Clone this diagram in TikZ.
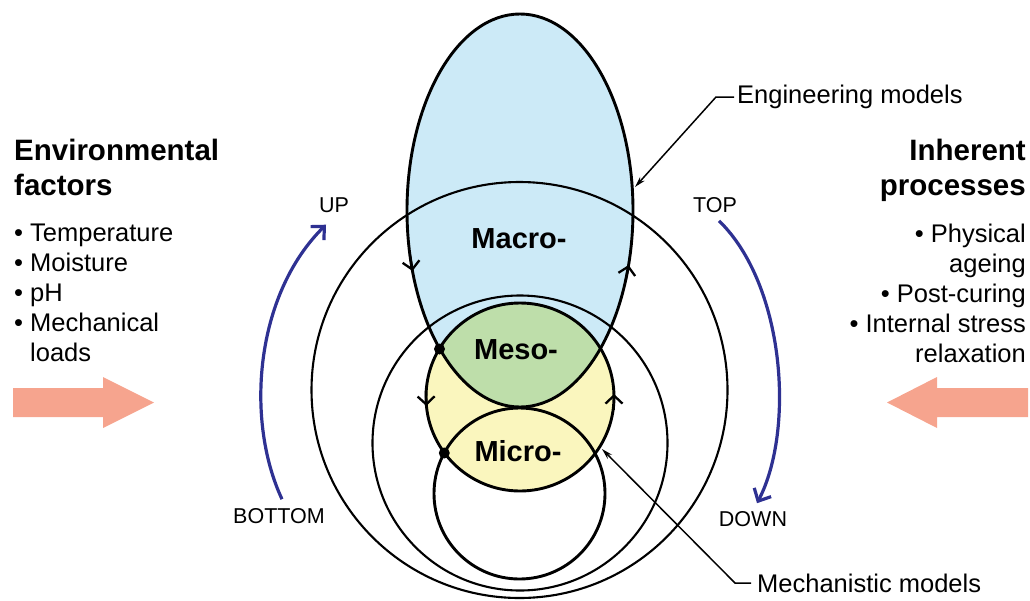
\documentclass[tikz,border=0pt]{standalone}
\usepackage{fontspec}
\setmainfont{Liberation Sans}
\usetikzlibrary{arrows.meta}

\definecolor{macroblue}{RGB}{204,234,247}
\definecolor{mesogreen}{RGB}{190,222,170}
\definecolor{microyellow}{RGB}{250,246,190}
\definecolor{turnblue}{RGB}{46,49,146}
\definecolor{loadsalmon}{RGB}{246,164,142}

\newcommand{\headfont}{\fontsize{29.5}{35}\selectfont\bfseries}
\newcommand{\listfont}{\fontsize{25.5}{30}\selectfont}
\newcommand{\levelfont}{\fontsize{29}{34}\selectfont\bfseries}
\newcommand{\dirfont}{\fontsize{21.5}{26}\selectfont}
\newcommand{\notefont}{\fontsize{25.5}{30}\selectfont}

\begin{document}
\begin{tikzpicture}[x=1pt,y=-1pt]
    \tikzstyle{every node}=[inner sep=0pt]
    \tikzstyle{levelline}=[line width=2.9pt]
    \tikzstyle{ringline}=[line width=2.1pt]
    \tikzstyle{chev}=[line width=2.3pt,-{Straight Barb[length=8pt,width=17pt]}]
    \tikzstyle{turnarc}=[turnblue,line width=3.2pt,-{Straight Barb[length=10pt,width=19pt]}]
    \tikzstyle{leaderline}=[line width=1.5pt,-{Stealth[length=11pt,width=6pt]}]
    \useasboundingbox (0,0) rectangle (1030,600);

    \fill[macroblue] (520,210.5) ellipse (113 and 196.5);
    \fill[microyellow] (520,397) circle (94);
    \begin{scope}
        \clip (520,210.5) ellipse (113 and 196.5);
        \fill[mesogreen] (520,397) circle (94);
    \end{scope}

    \draw[ringline] (519.5,390) circle (208);
    \draw[ringline] (520,443) circle (147.5);

    \draw[levelline] (520,210.5) ellipse (113 and 196.5);
    \draw[levelline] (520,397) circle (94);
    \draw[levelline] (519.5,493.5) circle (85.5);

    \draw[chev] (410,255) -- (412.5,271);
    \draw[chev] (625.5,281) -- (628.6,265);
    \draw[chev] (426,390) -- (426.3,406);
    \draw[chev] (614,410) -- (614,394);

    \fill (439.5,349) circle (5.5);
    \fill (444.3,453) circle (5.5);

    \node[font=\levelfont] (macro) at (519,239) {Macro-};
    \node[font=\levelfont] (meso) at (516,350) {Meso-};
    \node[font=\levelfont] (micro) at (518,451) {Micro-};

    \node[font=\dirfont] (up) at (334,205) {UP};
    \node[font=\dirfont] (top) at (715,205) {TOP};
    \node[font=\dirfont] (bottom) at (279,516) {BOTTOM};
    \node[font=\dirfont] (down) at (753,519) {DOWN};

    \draw[turnarc] ([xshift=3pt,yshift=9pt]bottom.north) .. controls (245,420) and (255,295) .. ([xshift=-8pt,yshift=-12pt]up.south);
    \draw[turnarc] ([xshift=4pt,yshift=-8pt]top.south) .. controls (785,285) and (795,430) .. ([xshift=4pt,yshift=8pt]down.north);

    \node[font=\notefont,anchor=west] (engmodels) at (737,97) {Engineering models};
    \coordinate (engtip) at (635,187);
    \draw[leaderline] ([xshift=-3pt]engmodels.west) -- ++(-18,0) -- (engtip);

    \node[font=\notefont,anchor=west] (mechmodels) at (757,583) {Mechanistic models};
    \coordinate (mechtip) at (602,449);
    \draw[leaderline] ([xshift=-6pt]mechmodels.west) -- ++(-16,0) -- (mechtip);

    \node[font=\headfont,anchor=north west,align=left] (envhead) at (14,139) {Environmental\\factors};
    \node[font=\listfont,anchor=north west,align=left] (envlist) at (14,224)
    {• Temperature\\• Moisture\\• pH\\• Mechanical\\\hphantom{• }loads};

    \node[font=\headfont,anchor=north east,align=right] (inhhead) at (1026,139) {Inherent\\processes};
    \node[font=\listfont,anchor=north east,align=right] (inhlist) at (1026,224)
    {• Physical\\ageing\\• Post-curing\\• Internal stress\\relaxation};

    \fill[loadsalmon] (13,388) -- (103,388) -- (103,377) -- (154,402.5) -- (103,428) -- (103,417) -- (13,417) -- cycle;
    \fill[loadsalmon] (1028,388) -- (937,388) -- (937,377) -- (887,402.5) -- (937,428) -- (937,417) -- (1028,417) -- cycle;
\end{tikzpicture}
\end{document}
